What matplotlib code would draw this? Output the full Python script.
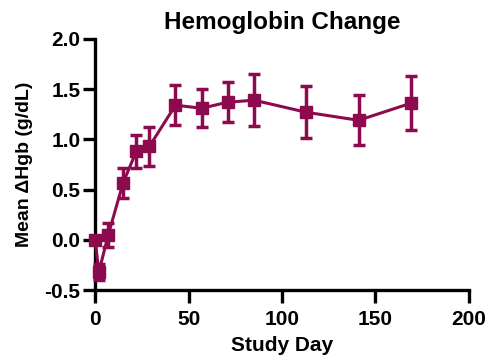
import numpy as np
import matplotlib.pyplot as plt

plt.rcParams['font.family'] = ['Liberation Sans', 'DejaVu Sans']
plt.rcParams['font.weight'] = 'bold'

# mean change in hemoglobin by study day, with error bar half-widths
days = [0, 2, 7, 15, 22, 29, 43, 57, 71, 85, 113, 141, 169]
mean_hgb = [0.0, -0.32, 0.05, 0.57, 0.88, 0.93, 1.34, 1.31, 1.37, 1.39, 1.27, 1.19, 1.36]
err_hgb = [0.0, 0.08, 0.12, 0.15, 0.16, 0.19, 0.20, 0.19, 0.20, 0.26, 0.26, 0.25, 0.27]

color = '#8E0A4E'

fig = plt.figure(figsize=(4.93, 3.6), dpi=100)
ax = fig.add_axes([0.193, 0.194, 0.758, 0.698])

ax.errorbar(days, mean_hgb, yerr=err_hgb, color=color, marker='s', markersize=9,
            linewidth=2.2, elinewidth=2.5, capsize=4, capthick=2.5, clip_on=False, zorder=3)

ax.set_xlim(0, 200)
ax.set_ylim(-0.5, 2.0)
ax.set_xticks([0, 50, 100, 150, 200])
ax.set_yticks([-0.5, 0.0, 0.5, 1.0, 1.5, 2.0])
ax.set_yticklabels(['-0.5', '0.0', '0.5', '1.0', '1.5', '2.0'])

for s in ['top', 'right']:
    ax.spines[s].set_visible(False)
for s in ['left', 'bottom']:
    ax.spines[s].set_linewidth(2.4)
ax.tick_params(width=2.4, length=9, labelsize=15, direction='out')
ax.tick_params(axis='x', pad=5)
ax.tick_params(axis='y', pad=1.5)
for lab in ax.get_xticklabels() + ax.get_yticklabels():
    lab.set_fontweight('bold')

ax.set_title('Hemoglobin Change', fontsize=17.5, fontweight='bold', pad=7)
ax.set_xlabel('Study Day', fontsize=15, fontweight='bold', labelpad=5)
ax.set_ylabel('Mean ΔHgb (g/dL)', fontsize=14, fontweight='bold', labelpad=8)

fig.savefig('out.png', dpi=100)
